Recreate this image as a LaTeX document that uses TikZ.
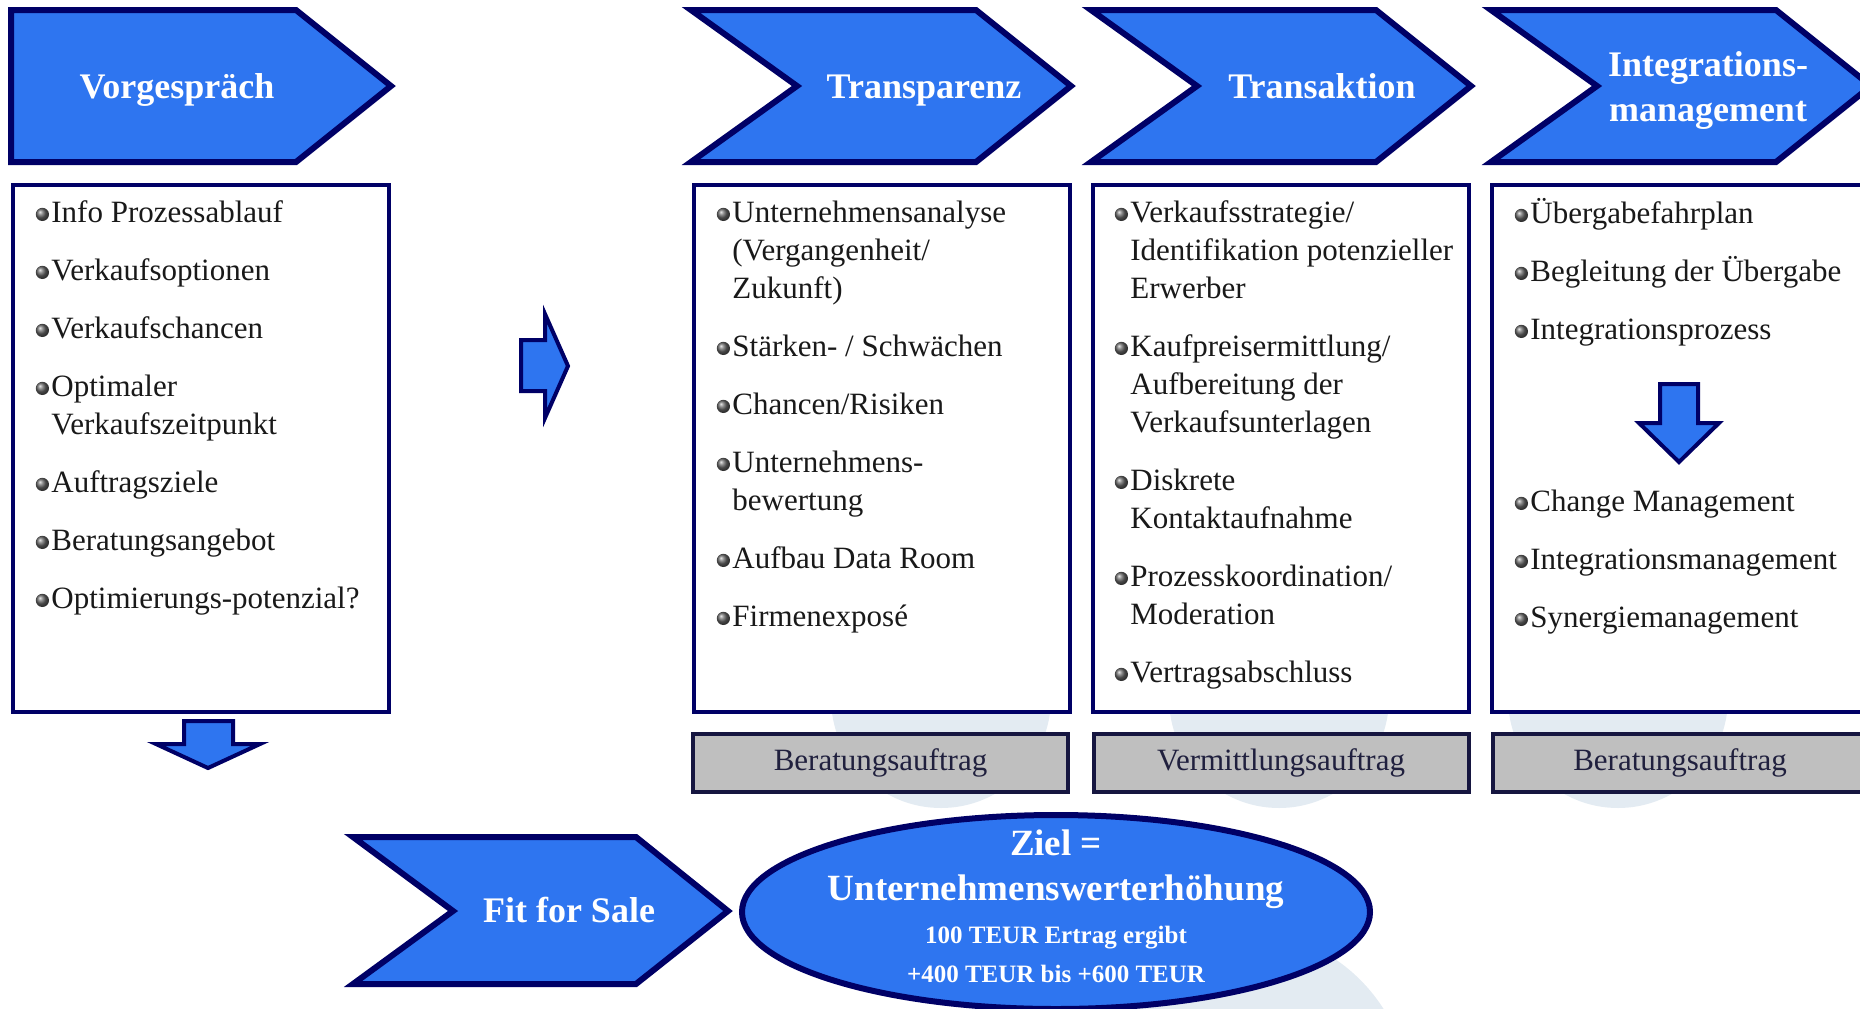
\documentclass[tikz,border=0pt]{standalone}
\usepackage{fontspec}
\setmainfont{Liberation Serif}
\usetikzlibrary{shapes.geometric}
\definecolor{stepblue}{RGB}{46,117,240}
\definecolor{navy}{RGB}{0,0,102}
\definecolor{boxgrey}{RGB}{191,191,191}
\definecolor{greyline}{RGB}{22,22,64}
\definecolor{greytext}{RGB}{32,32,62}
\definecolor{faint}{RGB}{227,235,242}
\newcommand{\kugel}{\llap{\tikz[baseline=-4pt]\shade[ball color=black!60] (0,0) circle (3.3pt);\hspace{1.2pt}}}
\newcommand{\erste}{\rule{0pt}{15pt}}
\begin{document}
\begin{tikzpicture}[
  x=0.5pt,
  y=-0.5pt,
  chevron/.style={draw=navy, fill=stepblue, line width=3pt, line join=miter},
  stepbox/.style={draw=navy, fill=white, line width=1.75pt},
  auftrag/.style={draw=greyline, fill=boxgrey, line width=2pt, minimum width=187.5pt,
    minimum height=29pt, inner sep=0pt, text=greytext, font=\fontsize{15.5}{18}\selectfont},
  blockarrow/.style={draw=navy, fill=stepblue, line width=2pt, line join=miter},
  head/.style={text=white, font=\fontsize{18}{22.5}\selectfont\bfseries, align=center, inner sep=0pt},
  items/.style={anchor=north west, align=left, inner sep=0pt, text=black!90,
    font=\fontsize{15.5}{19}\selectfont},
  ziel/.style={text=white, inner sep=0pt, anchor=base}
]
\useasboundingbox (0,0) rectangle (1860,1008);
\clip (0,0) rectangle (1860,1008);

% faint figures behind the contract boxes
\fill[faint] (941,698) circle (55pt);
\fill[faint] (1279,698) circle (55pt);
\fill[faint] (1618,698) circle (55pt);
\fill[faint] (1240,1100) circle (85pt);

% phase chevrons
\draw[chevron] (11,10) -- (296,10) -- (391,86) -- (296,162) -- (11,162) -- cycle;
\foreach \dx in {0,400,800} {
  \draw[chevron] (691+\dx,10) -- (976+\dx,10) -- (1071+\dx,86) -- (976+\dx,162)
    -- (691+\dx,162) -- (797+\dx,86) -- cycle;
}
\node[head, anchor=base] (vorg) at (177,98) {Vorgespräch};
\node[head, anchor=base] (transp) at (924,98) {Transparenz};
\node[head, anchor=base] (transa) at (1322,98) {Transaktion};
\node[head, anchor=north] (integ) at (1708,40) {\rule{0pt}{18pt}Integrations-\\management};

% content boxes
\draw[stepbox] (13,185) rectangle (389,712);
\draw[stepbox] (694,185) rectangle (1070,712);
\draw[stepbox] (1093,185) rectangle (1469,712);
\draw[stepbox] (1492,185) rectangle (1890,712);

\node[items] (vorgliste) at (51,192) {\erste\kugel Info Prozessablauf\\[10pt]
  \kugel Verkaufsoptionen\\[10pt]
  \kugel Verkaufschancen\\[10pt]
  \kugel Optimaler\\
  Verkaufszeitpunkt\\[10pt]
  \kugel Auftragsziele\\[10pt]
  \kugel Beratungsangebot\\[10pt]
  \kugel Optimierungs-potenzial?};

\node[items] (transpliste) at (732,192) {\erste\kugel Unternehmensanalyse\\
  (Vergangenheit/\\
  Zukunft)\\[10pt]
  \kugel Stärken- / Schwächen\\[10pt]
  \kugel Chancen/Risiken\\[10pt]
  \kugel Unternehmens-\\
  bewertung\\[10pt]
  \kugel Aufbau Data Room\\[10pt]
  \kugel Firmenexposé};

\node[items] (transaliste) at (1130,192) {\erste\kugel Verkaufsstrategie/\\
  Identifikation potenzieller\\
  Erwerber\\[10pt]
  \kugel Kaufpreisermittlung/\\
  Aufbereitung der\\
  Verkaufsunterlagen\\[10pt]
  \kugel Diskrete\\
  Kontaktaufnahme\\[10pt]
  \kugel Prozesskoordination/\\
  Moderation\\[10pt]
  \kugel Vertragsabschluss};

\node[items] (integliste) at (1530,193) {\erste\kugel Übergabefahrplan\\[10pt]
  \kugel Begleitung der Übergabe\\[10pt]
  \kugel Integrationsprozess};
\node[items] (integliste2) at (1530,481) {\erste\kugel Change Management\\[10pt]
  \kugel Integrationsmanagement\\[10pt]
  \kugel Synergiemanagement};

% contract type boxes
\node[auftrag] (berat1) at (880.5,763) {Beratungsauftrag};
\node[auftrag] (vermitt) at (1281,763) {Vermittlungsauftrag};
\node[auftrag] (berat2) at (1680,763) {Beratungsauftrag};

% block arrows
\draw[blockarrow] (184,721) -- (233,721) -- (233,744) -- (260,744) -- (208,768)
  -- (156,744) -- (184,744) -- cycle;
\draw[blockarrow] (521,340) -- (545,340) -- (545,314) -- (568,366) -- (545,418)
  -- (545,391) -- (521,391) -- cycle;
\draw[blockarrow] (1660,384) -- (1698,384) -- (1698,423) -- (1719,423) -- (1679,462)
  -- (1639,423) -- (1660,423) -- cycle;

% Fit for Sale and goal
\draw[chevron] (353,837) -- (636,837) -- (728,911) -- (636,984) -- (353,984)
  -- (453,911) -- cycle;
\node[head, anchor=base] (fit) at (569,922) {Fit for Sale};

\node[ellipse, draw=navy, fill=stepblue, line width=3pt, minimum width=314pt,
  minimum height=97pt, inner sep=0pt] (ziel) at (1056,912) {};
\node[ziel, font=\fontsize{18.5}{22}\selectfont\bfseries] (ziel1) at (1056,855) {Ziel =};
\node[ziel, font=\fontsize{18.5}{22}\selectfont\bfseries] (ziel2) at (1056,900) {Unternehmenswerterhöhung};
\node[ziel, font=\fontsize{12.5}{15}\selectfont\bfseries] (ziel3) at (1056,943) {100 TEUR Ertrag ergibt};
\node[ziel, font=\fontsize{12.5}{15}\selectfont\bfseries] (ziel4) at (1056,982) {+400 TEUR bis +600 TEUR};
\end{tikzpicture}
\end{document}
